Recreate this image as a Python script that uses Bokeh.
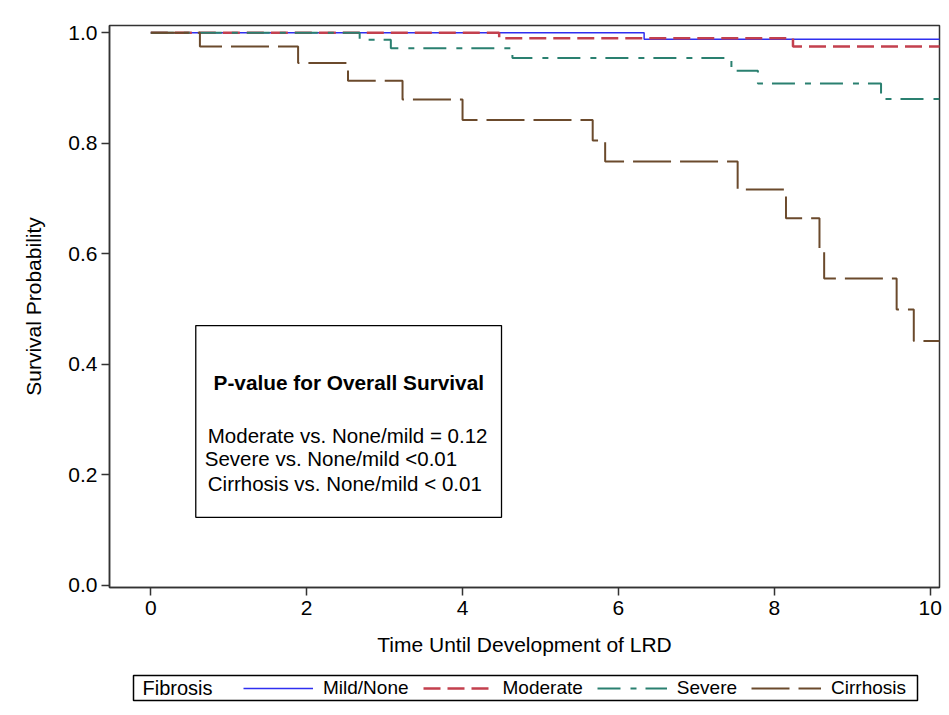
from bokeh.plotting import figure
from bokeh.layouts import column
from bokeh.models import (Legend, LegendItem, FixedTicker, NumeralTickFormatter,
                          Range1d, BoxAnnotation, Label)
from bokeh.embed import file_html
from bokeh.resources import INLINE

FONT = "Liberation Sans"

# ---- data ----
mild_t = [0, 6.33, 10.2]
mild_s = [1.0, 0.988, 0.988]

mod_t = [0, 4.47, 8.24, 10.2]
mod_s = [1.0, 0.990, 0.975, 0.975]

sev_t = [0, 2.68, 3.08, 4.64, 7.45, 7.79, 9.37, 10.2]
sev_s = [1.0, 0.987, 0.972, 0.954, 0.931, 0.908, 0.880, 0.880]

cir_t = [0, 0.63, 1.89, 2.53, 3.23, 4.0, 5.67, 5.83, 7.53, 8.15, 8.58, 8.64, 9.57, 9.79, 10.2]
cir_s = [1.0, 0.975, 0.945, 0.913, 0.879, 0.842, 0.805, 0.767, 0.716, 0.664, 0.608,
         0.555, 0.499, 0.442, 0.442]

groups = ["Mild/None", "Moderate", "Severe", "Cirrhosis"]
legend_title = "Fibrosis"
x_ticks = [0, 2, 4, 6, 8, 10]
y_ticks = [0.0, 0.2, 0.4, 0.6, 0.8, 1.0]

title_txt = "P-value for Overall Survival"
pval_lines = ["Moderate vs. None/mild = 0.12",
              "Severe vs. None/mild <0.01",
              "Cirrhosis vs. None/mild < 0.01"]

# ---- styles ----
colors = ["#2f2ff0", "#c3404e", "#2a8070", "#6b4a2c"]
dashes = ["solid", "17 7", "23 10 6 9", "38 9"]
widths = [1.5, 2.5, 2, 2]

BL, FW, BR = 109, 830, 6   # left border, frame width, right border (px)
p = figure(frame_width=FW, frame_height=562, x_range=Range1d(-0.53, 10.12),
           y_range=Range1d(-0.004, 1.013), output_backend="svg", toolbar_location=None,
           min_border_left=BL, min_border_top=25, min_border_right=BR,
           min_border_bottom=81,
           background_fill_color="white", border_fill_color="white")

p.xgrid.visible = False
p.ygrid.visible = False
p.outline_line_color = "#333333"
p.outline_line_width = 1.5

series = [(mild_t, mild_s), (mod_t, mod_s), (sev_t, sev_s), (cir_t, cir_s)]
for (t, s), c, d, w in zip(series, colors, dashes, widths):
    p.step(t, s, mode="after", line_color=c, line_dash=d, line_width=w)

for ax in (p.xaxis[0], p.yaxis[0]):
    ax.axis_line_color = "#333333"
    ax.axis_line_width = 1.5
    ax.major_tick_line_color = "#333333"
    ax.major_tick_line_width = 1.5
    ax.major_tick_out = 8
    ax.major_tick_in = 0
    ax.minor_tick_line_color = None
    ax.major_label_text_font = FONT
    ax.major_label_text_font_size = "21px"
    ax.major_label_text_color = "black"
    ax.axis_label_text_font = FONT
    ax.axis_label_text_font_size = "21px"
    ax.axis_label_text_font_style = "normal"
    ax.axis_label_text_color = "black"

p.xaxis.ticker = FixedTicker(ticks=x_ticks)
p.yaxis.ticker = FixedTicker(ticks=y_ticks)
p.yaxis.formatter = NumeralTickFormatter(format="0.0")
p.xaxis.axis_label = "Time Until Development of LRD"
p.yaxis.axis_label = "Survival Probability"
p.xaxis.major_label_standoff = 5
p.yaxis.major_label_standoff = 4
p.xaxis.axis_label_standoff = 15
p.yaxis.axis_label_standoff = 20

# ---- p-value inset box ----
box = BoxAnnotation(left=0.577, right=4.5, top=0.470, bottom=0.123,
                    fill_color=None, fill_alpha=0, line_color="black", line_alpha=1.0,
                    line_width=1.3)
p.add_layout(box)
p.add_layout(Label(x=2.54, y=0.367, text=title_txt, text_align="center",
                   text_baseline="middle", text_font=FONT, text_font_size="20.8px",
                   text_font_style="bold", text_color="black"))
for txt, lx, ly in zip(pval_lines, [0.731, 0.692, 0.731], [0.271, 0.229, 0.184]):
    p.add_layout(Label(x=lx, y=ly, text=txt, text_align="left", text_baseline="middle",
                       text_font=FONT, text_font_size="20.5px", text_color="black"))

# ---- legend strip (separate figure below; its x range is in page pixels) ----
LH = 46
q = figure(frame_width=FW, height=LH, x_range=Range1d(BL, BL + FW),
           y_range=Range1d(LH, 0), x_axis_type=None, y_axis_type=None,
           output_backend="svg", toolbar_location=None,
           min_border_left=BL, min_border_right=BR, min_border_top=0, min_border_bottom=0,
           outline_line_color=None,
           background_fill_color="white", border_fill_color="white")
q.xgrid.visible = False
q.ygrid.visible = False

leg_renderers = []
for c, d, w in zip(colors, dashes, widths):
    leg_renderers.append(q.line([float("nan")], [float("nan")], line_color=c,
                                line_dash=d, line_width=w))

q.add_layout(BoxAnnotation(left=133, right=917, top=7, bottom=32, fill_color=None,
                           fill_alpha=0, line_color="black", line_alpha=1.0,
                           line_width=1.5))
q.add_layout(Label(x=142, y=19.5, text=legend_title, text_align="left",
                   text_baseline="middle", text_font=FONT, text_font_size="20px",
                   text_color="black"))

items = [LegendItem(label=g, renderers=[r]) for g, r in zip(groups, leg_renderers)]
legend = Legend(items=items, orientation="horizontal", location=(243 - BL, 15),
                label_text_font=FONT, label_text_font_size="19px",
                label_text_color="black",
                glyph_width=70, glyph_height=20, label_standoff=10, spacing=14,
                padding=0, margin=0, border_line_color=None,
                background_fill_alpha=0, label_height=20)
q.add_layout(legend, "center")

layout = column(p, q, spacing=0)
open("out.html", "w").write(file_html(layout, INLINE))
